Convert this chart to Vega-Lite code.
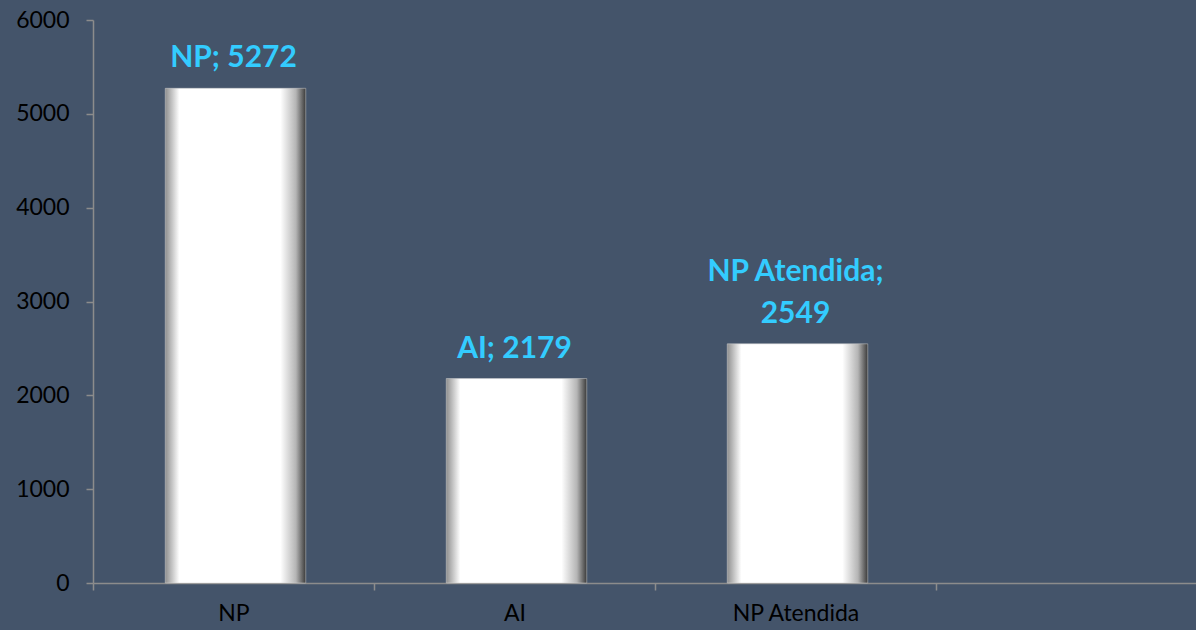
{
  "$schema": "https://vega.github.io/schema/vega-lite/v6.json",
  "width": 1103,
  "height": 563,
  "autosize": {"type": "none"},
  "padding": {"left": 93, "top": 20, "right": 0, "bottom": 47},
  "background": "#44546a",
  "config": {"view": {"stroke": null}, "font": "Lato"},
  "data": {
    "values": [
      {"category": "NP", "value": 5272, "line1": "", "line2": "NP; 5272"},
      {"category": "AI", "value": 2179, "line1": "", "line2": "AI; 2179"},
      {"category": "NP Atendida", "value": 2549, "line1": "NP Atendida;", "line2": "2549"}
    ]
  },
  "encoding": {
    "x": {
      "field": "category",
      "type": "nominal",
      "sort": null,
      "scale": {
        "domain": ["NP", "AI", "NP Atendida", " "],
        "range": [0, 1124],
        "paddingInner": 0,
        "paddingOuter": 0
      },
      "axis": {
        "title": null,
        "labelAngle": 0,
        "labelColor": "#000000",
        "labelFont": "Lato",
        "labelFontSize": 23,
        "labelPadding": 12,
        "tickBand": "extent",
        "tickSize": 7,
        "tickColor": "#8c8c8c",
        "tickWidth": 1.5,
        "domainColor": "#8c8c8c",
        "domainWidth": 1.5,
        "grid": false
      }
    },
    "y": {
      "field": "value",
      "type": "quantitative",
      "scale": {"domain": [0, 6000], "nice": false},
      "axis": {
        "title": null,
        "format": "d",
        "values": [0, 1000, 2000, 3000, 4000, 5000, 6000],
        "labelColor": "#000000",
        "labelFont": "Lato",
        "labelFontSize": 23,
        "labelPadding": 17,
        "tickSize": 7,
        "tickColor": "#8c8c8c",
        "tickWidth": 1.5,
        "domainColor": "#8c8c8c",
        "domainWidth": 1.5,
        "grid": false
      }
    }
  },
  "layer": [
    {
      "mark": {
        "type": "bar",
        "width": {"band": 0.5},
        "xOffset": 2,
        "color": {
          "gradient": "linear",
          "x1": 0, "x2": 1, "y1": 0, "y2": 0,
          "stops": [
            {"offset": 0, "color": "#8f8f8f"},
            {"offset": 0.1, "color": "#ffffff"},
            {"offset": 0.82, "color": "#ffffff"},
            {"offset": 0.93, "color": "#b5b5b5"},
            {"offset": 1, "color": "#3a3a3a"}
          ]
        },
        "stroke": "#d0d0d0",
        "strokeWidth": 0.5
      }
    },
    {
      "mark": {
        "type": "text",
        "baseline": "alphabetic",
        "dy": -21,
        "fontSize": 30,
        "fontWeight": "bold",
        "font": "Lato",
        "color": "#33ccff"
      },
      "encoding": {"text": {"field": "line2"}}
    },
    {
      "mark": {
        "type": "text",
        "baseline": "alphabetic",
        "dy": -63,
        "fontSize": 30,
        "fontWeight": "bold",
        "font": "Lato",
        "color": "#33ccff"
      },
      "encoding": {"text": {"field": "line1"}}
    }
  ]
}
